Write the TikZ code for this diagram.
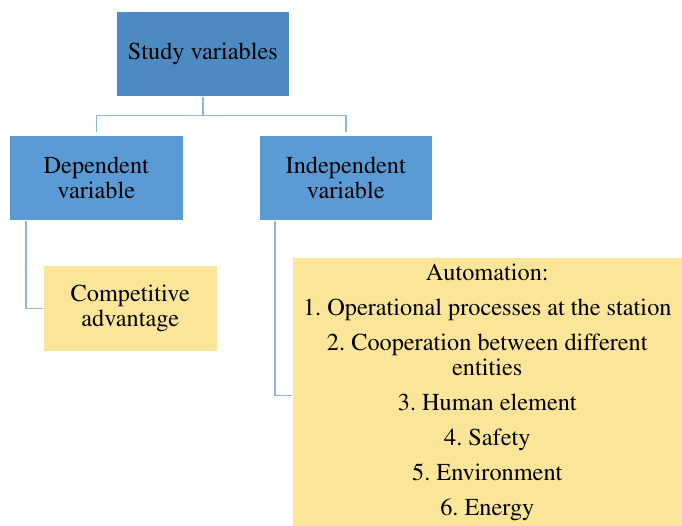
\documentclass[tikz,border=0pt]{standalone}
\usepackage[T1]{fontenc}
\usepackage{times}
\usepackage{xcolor}
\definecolor{studyblue}{HTML}{4E8AC2}
\definecolor{varblue}{HTML}{5B9BD5}
\definecolor{linkblue}{HTML}{8EB4E3}
\definecolor{noteyellow}{HTML}{FAE598}
\frenchspacing

\begin{document}
\begin{tikzpicture}[x=1pt, y=-1pt,
  box/.style={draw=white, line width=0.6pt, inner sep=2pt, align=center,
              anchor=north west, font=\fontsize{24.3}{25}\selectfont},
  link/.style={draw=linkblue, line width=1.6pt}]
\useasboundingbox (0,0) rectangle (682,525);

\node[box, fill=studyblue, minimum width=173pt, minimum height=85pt] (study) at (116,11) {Study variables};
\node[box, fill=varblue, minimum width=174pt, minimum height=85pt] (dep) at (9,135) {Dependent\\variable};
\node[box, fill=varblue, minimum width=173pt, minimum height=85pt] (indep) at (259,135) {Independent\\variable};
\node[box, fill=noteyellow, minimum width=174pt, minimum height=86pt] (comp) at (43,265) {Competitive\\advantage};
\node[box, fill=noteyellow, minimum width=390pt, minimum height=270pt] (auto) at (292,257) {%
Automation:\\[10pt]
1. Operational processes at the station\\[10pt]
2. Cooperation between different\\entities\\[10pt]
3. Human element\\[10pt]
4. Safety\\[10pt]
5. Environment\\[10pt]
6. Energy};

% tree links
\draw[link] (study.south) -- ++(0,19) -| ([yshift=3pt]dep.north);
\draw[link] (study.south) -- ++(0,19) -| ([yshift=3pt]indep.north);
\draw[link] ([xshift=17pt]dep.south west) |- (comp.west);
\draw[link] ([xshift=16pt]indep.south west) |- ([yshift=-3pt]auto.west);
\end{tikzpicture}
\end{document}
